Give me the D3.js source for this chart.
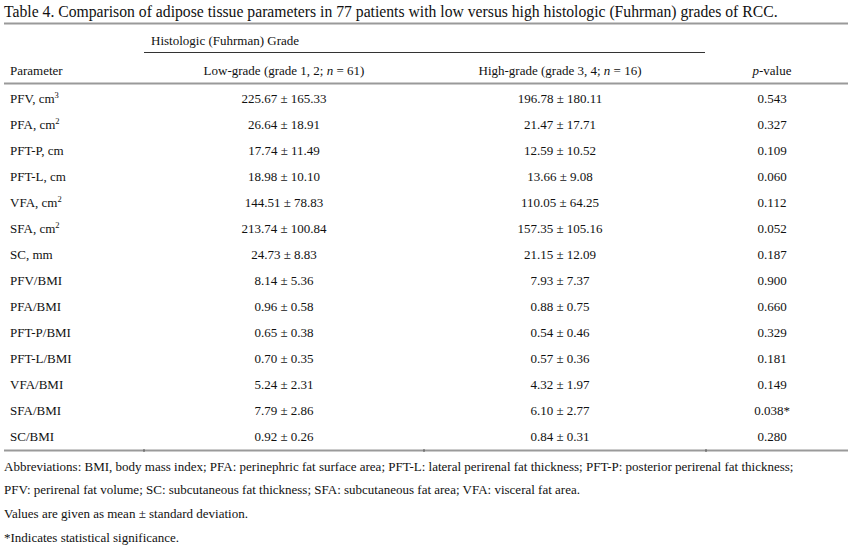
<!DOCTYPE html>
<html>
<head>
<meta charset="utf-8">
<script src="https://cdn.jsdelivr.net/npm/d3@7"></script>
<style>
  body { margin: 0; background: #fff; }
  text { font-family: "Liberation Serif", "Times New Roman", serif; fill: #111; }
</style>
</head>
<body>
<div class="tabela"></div>
<script>
// size of the svg
var widthSVG = 851;
var heightSVG = 550;

// table contents
var titulo = "Table 4. Comparison of adipose tissue parameters in 77 patients with low versus high histologic (Fuhrman) grades of RCC.";
var grupo = "Histologic (Fuhrman) Grade";
// parameter names and their unit superscripts
var parametros = ["PFV, cm", "PFA, cm", "PFT-P, cm", "PFT-L, cm", "VFA, cm", "SFA, cm", "SC, mm",
                  "PFV/BMI", "PFA/BMI", "PFT-P/BMI", "PFT-L/BMI", "VFA/BMI", "SFA/BMI", "SC/BMI"];
var sobrescritos = ["3", "2", "", "", "2", "2", "", "", "", "", "", "", "", ""];
var lowGrade = ["225.67 ± 165.33", "26.64 ± 18.91", "17.74 ± 11.49", "18.98 ± 10.10", "144.51 ± 78.83",
                "213.74 ± 100.84", "24.73 ± 8.83", "8.14 ± 5.36", "0.96 ± 0.58", "0.65 ± 0.38",
                "0.70 ± 0.35", "5.24 ± 2.31", "7.79 ± 2.86", "0.92 ± 0.26"];
var highGrade = ["196.78 ± 180.11", "21.47 ± 17.71", "12.59 ± 10.52", "13.66 ± 9.08", "110.05 ± 64.25",
                 "157.35 ± 105.16", "21.15 ± 12.09", "7.93 ± 7.37", "0.88 ± 0.75", "0.54 ± 0.46",
                 "0.57 ± 0.36", "4.32 ± 1.97", "6.10 ± 2.77", "0.84 ± 0.31"];
var pValores = ["0.543", "0.327", "0.109", "0.060", "0.112", "0.052", "0.187",
                "0.900", "0.660", "0.329", "0.181", "0.149", "0.038*", "0.280"];
var notas = [
  "Abbreviations: BMI, body mass index; PFA: perinephric fat surface area; PFT-L: lateral perirenal fat thickness; PFT-P: posterior perirenal fat thickness;",
  "PFV: perirenal fat volume; SC: subcutaneous fat thickness; SFA: subcutaneous fat area; VFA: visceral fat area.",
  "Values are given as mean ± standard deviation.",
  "*Indicates statistical significance."
];

var svg = d3.select(".tabela")
  .append("svg")
  .attr("width", widthSVG)
  .attr("height", heightSVG);

// row positions (centre of each row)
var yScale = d3.scalePoint()
  .domain(d3.range(parametros.length))
  .range([98, 436]);

// column centres
var colLow = 284, colHigh = 560, colP = 772, colParam = 10;

// title
svg.append("text")
  .attr("x", 4)
  .attr("y", 17)
  .style("font-size", "15.7px")
  .text(titulo);

// rules
var regra = function(y, x1, x2, cor, w) {
  svg.append("line")
    .attr("x1", x1).attr("x2", x2)
    .attr("y1", y).attr("y2", y)
    .attr("stroke", cor)
    .attr("stroke-width", w);
};
regra(23.5, 4, 848, "#9a9a9a", 2);
regra(52.5, 144, 705, "#333", 1);
regra(83.5, 4, 848, "#9a9a9a", 2);
regra(450.5, 4, 848, "#9a9a9a", 2);

// small column marks on the bottom rule
[144, 424, 706].forEach(function(x) {
  svg.append("line")
    .attr("x1", x).attr("x2", x)
    .attr("y1", 449).attr("y2", 452)
    .attr("stroke", "#555")
    .attr("stroke-width", 1);
});

// header
svg.append("text")
  .attr("x", 151).attr("y", 44.5)
  .style("font-size", "13px")
  .text(grupo);

svg.append("text")
  .attr("x", colParam).attr("y", 74.5)
  .style("font-size", "13px")
  .text("Parameter");

var cabecalho = function(x, antes, depois) {
  var t = svg.append("text")
    .attr("x", x).attr("y", 74.5)
    .attr("text-anchor", "middle")
    .style("font-size", "13px");
  t.append("tspan").text(antes);
  t.append("tspan").style("font-style", "italic").text("n");
  t.append("tspan").text(depois);
};
cabecalho(colLow, "Low-grade (grade 1, 2; ", " = 61)");
cabecalho(colHigh, "High-grade (grade 3, 4; ", " = 16)");

var pHead = svg.append("text")
  .attr("x", colP).attr("y", 74.5)
  .attr("text-anchor", "middle")
  .style("font-size", "13px");
pHead.append("tspan").style("font-style", "italic").text("p");
pHead.append("tspan").text("-value");

// body rows
var linhas = svg.append("g")
  .selectAll("g")
  .data(d3.range(parametros.length))
  .enter()
  .append("g")
  .attr("transform", function(i) { return "translate(0," + (yScale(i) + 4.5) + ")"; });

var rotulo = linhas.append("text")
  .attr("x", colParam)
  .style("font-size", "13px");
rotulo.append("tspan").text(function(i) { return parametros[i]; });
rotulo.append("tspan")
  .attr("dy", -5)
  .style("font-size", "8.5px")
  .text(function(i) { return sobrescritos[i]; });

linhas.append("text")
  .attr("x", colLow)
  .attr("text-anchor", "middle")
  .style("font-size", "13px")
  .text(function(i) { return lowGrade[i]; });

linhas.append("text")
  .attr("x", colHigh)
  .attr("text-anchor", "middle")
  .style("font-size", "13px")
  .text(function(i) { return highGrade[i]; });

linhas.append("text")
  .attr("x", colP)
  .attr("text-anchor", "middle")
  .style("font-size", "13px")
  .text(function(i) { return pValores[i]; });

// footnotes
svg.append("g")
  .selectAll("text")
  .data(notas)
  .enter()
  .append("text")
  .attr("x", 4)
  .attr("y", function(d, i) { return 470.5 + i * 23.7; })
  .style("font-size", "13px")
  .text(function(d) { return d; });
</script>
</body>
</html>
